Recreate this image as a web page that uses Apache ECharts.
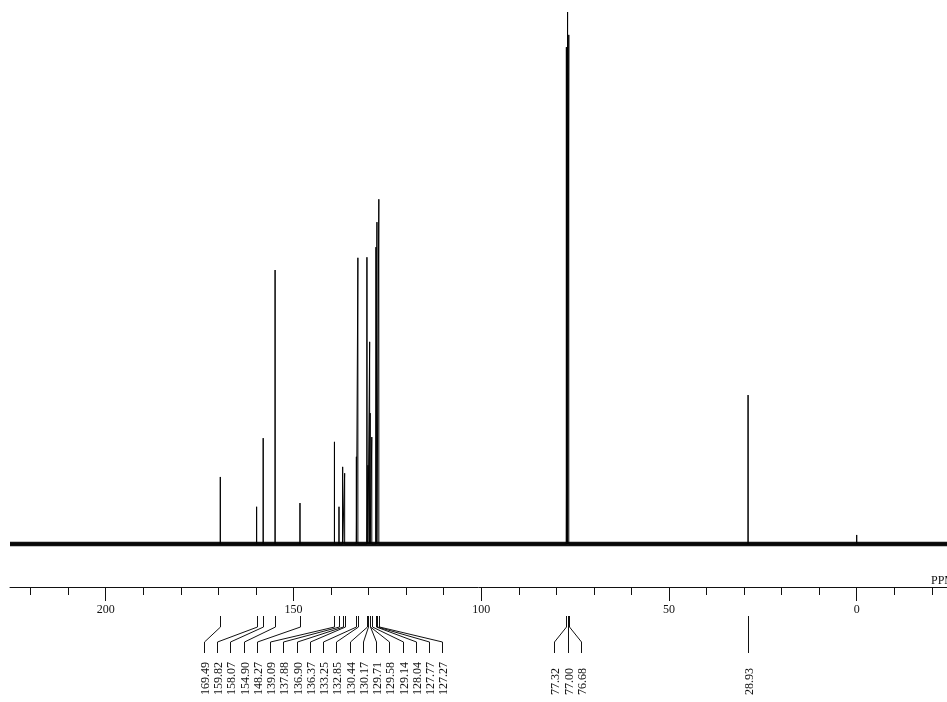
<!DOCTYPE html>
<html>
<head>
<meta charset="utf-8">
<script src="https://cdn.jsdelivr.net/npm/echarts@6/dist/echarts.min.js"></script>
<style>
html,body{margin:0;padding:0;background:#fff;}
#chart{width:947px;height:702px;}
</style>
</head>
<body>
<div id="chart"></div>
<script>
// ---- data ----
// labelled peak positions (ppm)
const peakPPM = [169.49, 159.82, 158.07, 154.90, 148.27, 139.09, 137.88, 136.90, 136.37, 133.25,
                 132.85, 130.44, 130.17, 129.71, 129.58, 129.14, 128.04, 127.77, 127.27,
                 77.32, 77.00, 76.68,
                 28.93];
// relative peak intensities (tallest = 100)
const peakHeight = [12.6, 7.0, 19.9, 51.5, 7.7, 19.2, 7.0, 14.5, 13.3, 16.4,
                    53.8, 53.9, 14.8, 38.0, 24.6, 20.1, 55.8, 60.5, 64.8,
                    93.4, 100, 95.7,
                    28.0];
// which label cluster each peak belongs to
const peakGroup = [0,0,0,0,0,0,0,0,0,0,0,0,0,0,0,0,0,0,0, 1,1,1, 2];
// unlabelled small peak (TMS reference)
const minorPPM = [0.0];
const minorHeight = [1.7];
// spectral window (ppm)
const specStart = 225.5;
const specEnd = -24.05;
// axis tick values
const majorTicks = [0, 50, 100, 150, 200];
const minorTicks = [-20, -10, 10, 20, 30, 40, 60, 70, 80, 90, 110, 120, 130, 140, 160, 170, 180, 190, 210, 220];
const axisName = 'PPM';

// ---- build the spike trace ----
const allPeaks = peakPPM.map((p, i) => [p, peakHeight[i]])
  .concat(minorPPM.map((p, i) => [p, minorHeight[i]]))
  .sort((a, b) => b[0] - a[0]);
const spikeData = [[specStart, 0]];
allPeaks.forEach(([p, h]) => { spikeData.push([p, 0], [p, h], [p, 0]); });
spikeData.push([specEnd, 0]);

const FONT = '"Liberation Serif", "Times New Roman", serif';
const chart = echarts.init(document.getElementById('chart'), null, {renderer: 'canvas'});

const option = {
  animation: false,
  backgroundColor: '#ffffff',
  grid: [
    {left: 10, right: 0, top: 12, bottom: 158, containLabel: false},
    {left: 10, right: 0, top: 560, bottom: 115, containLabel: false},
    {left: 10, right: 0, top: 560, bottom: 115, containLabel: false}
  ],
  xAxis: [
    {
      gridIndex: 0, type: 'value', inverse: true, min: specEnd, max: specStart, show: false
    },
    {
      gridIndex: 1, type: 'value', inverse: true, min: specEnd, max: specStart,
      position: 'bottom',
      axisLine: {show: true, lineStyle: {color: '#111', width: 1}},
      axisTick: {show: true, length: 14, customValues: majorTicks, lineStyle: {color: '#111'}},
      axisLabel: {show: true, customValues: majorTicks, margin: 17, color: '#111',
                  fontFamily: FONT, fontSize: 12},
      splitLine: {show: false}
    },
    {
      gridIndex: 2, type: 'value', inverse: true, min: specEnd, max: specStart,
      position: 'bottom',
      axisLine: {show: false},
      axisTick: {show: true, length: 8, customValues: minorTicks, lineStyle: {color: '#111'}},
      axisLabel: {show: false},
      splitLine: {show: false}
    }
  ],
  yAxis: [
    {gridIndex: 0, type: 'value', min: 0, max: 100, show: false},
    {gridIndex: 1, type: 'value', min: 0, max: 1, show: false},
    {gridIndex: 2, type: 'value', min: 0, max: 1, show: false}
  ],
  series: [
    {
      type: 'line', xAxisIndex: 0, yAxisIndex: 0, showSymbol: false, silent: true, clip: false,
      data: [[specStart, 0], [specEnd, 0]],
      lineStyle: {color: '#111', width: 4.5}
    },
    {
      type: 'line', xAxisIndex: 0, yAxisIndex: 0, showSymbol: false, silent: true, clip: false,
      data: spikeData,
      lineStyle: {color: '#000', width: 1}
    }
  ]
};
chart.setOption(option);

// ---- peak-pick annotation (connectors + vertical labels) ----
const labelSpacing = 13.24;
const groupShift = [-12, 0, 0];
const yTop = 616, yKnee1 = 627, yKnee2 = 642, yBottom = 653, yText = 695;

const px = peakPPM.map(p => chart.convertToPixel({xAxisIndex: 0}, p));
const groups = {};
peakGroup.forEach((g, i) => { (groups[g] = groups[g] || []).push(i); });

const graphics = [];
Object.keys(groups).forEach(g => {
  const idx = groups[g];
  const n = idx.length;
  const mean = idx.reduce((s, i) => s + px[i], 0) / n;
  const center = mean + groupShift[g];
  idx.forEach((i, k) => {
    const lx = Math.round(center + (k - (n - 1) / 2) * labelSpacing) + 0.5;
    const pxx = Math.round(px[i]) + 0.5;
    graphics.push({
      type: 'polyline', silent: true,
      shape: {points: [[pxx, yTop], [pxx, yKnee1], [lx, yKnee2], [lx, yBottom]]},
      style: {stroke: '#111', lineWidth: 1, fill: null}
    });
    graphics.push({
      type: 'text', silent: true,
      x: lx + 1, y: yText, rotation: Math.PI / 2,
      style: {text: peakPPM[i].toFixed(2), font: '12px ' + FONT, fill: '#111',
              align: 'left', verticalAlign: 'middle'}
    });
  });
});
graphics.push({
  type: 'text', silent: true, x: 931, y: 581,
  style: {text: axisName, font: '12px ' + FONT, fill: '#111', align: 'left', verticalAlign: 'middle'}
});
chart.setOption({graphic: graphics});
</script>
</body>
</html>
